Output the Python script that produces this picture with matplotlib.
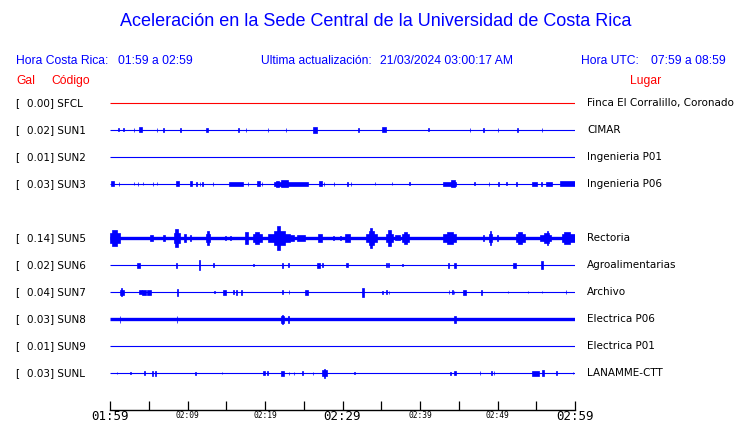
import matplotlib
matplotlib.use("Agg")
import matplotlib.pyplot as plt

BLUE = "#0000ff"
RED = "#ff0000"

# stations top to bottom (None = empty slot where SUN4 would be)
codes = ["SFCL", "SUN1", "SUN2", "SUN3", None, "SUN5", "SUN6", "SUN7", "SUN8", "SUN9", "SUNL"]
gal = [0.00, 0.02, 0.01, 0.03, None, 0.14, 0.02, 0.04, 0.03, 0.01, 0.03]
places = ["Finca El Corralillo, Coronado", "CIMAR", "Ingenieria P01", "Ingenieria P06", None,
          "Rectoria", "Agroalimentarias", "Archivo", "Electrica P06", "Electrica P01", "LANAMME-CTT"]

# bursts per trace: (start min, end min, half amplitude px)
sfcl = []
sun1 = [(1.0, 1.1, 1.5), (1.65, 1.75, 1.5), (3.05, 3.15, 2), (3.7, 4.1, 2.5), (6.0, 6.1, 2),
        (6.9, 7.0, 2), (9.0, 9.1, 2), (12.45, 12.7, 2), (16.5, 16.6, 2), (17.5, 17.6, 2),
        (20.35, 20.45, 2), (22.65, 22.75, 2), (26.2, 26.7, 3), (32.0, 32.1, 2), (35.15, 35.55, 2.5),
        (41.0, 41.1, 1.5), (46.4, 46.5, 2), (48.1, 48.2, 2), (50.0, 50.1, 2), (52.5, 52.6, 2),
        (55.7, 55.8, 2)]
sun2 = []
sun3 = [(0.1, 0.5, 2.5), (1.1, 1.2, 2), (3.05, 3.15, 1.5), (3.55, 3.65, 2), (4.2, 4.3, 1.5),
        (5.5, 5.6, 2), (6.0, 6.1, 1.5), (8.5, 8.9, 2.5), (10.3, 10.6, 2.5), (11.15, 11.25, 2),
        (11.55, 11.65, 2), (11.85, 11.95, 2), (13.25, 13.35, 2), (15.4, 17.2, 2), (17.75, 17.85, 2),
        (19.0, 19.3, 2.5), (19.55, 19.65, 2), (21.2, 25.5, 2), (21.4, 21.8, 3), (22.1, 23.0, 3.5),
        (27.0, 27.3, 2.5), (27.55, 27.65, 2), (28.85, 28.95, 2), (30.55, 30.65, 2), (31.05, 31.15, 2),
        (34.15, 34.25, 1.5), (36.35, 36.45, 1.5), (38.55, 38.65, 1.5), (43.0, 44.6, 2),
        (44.0, 44.5, 3.5), (46.95, 47.05, 1.5), (48.85, 48.95, 2), (50.05, 50.15, 2),
        (51.15, 51.25, 1.5), (52.45, 52.55, 2), (54.5, 55.1, 2), (55.65, 55.75, 2),
        (56.3, 57.0, 2), (58.0, 60.0, 2.5)]
sun5 = [(0.0, 1.3, 5), (0.3, 0.9, 8), (5.2, 5.5, 3), (6.8, 7.1, 3), (8.2, 9.0, 5), (8.4, 8.8, 9),
        (9.5, 9.8, 4), (10.3, 10.45, 3), (12.4, 12.9, 4), (12.5, 12.8, 7), (14.8, 14.95, 2),
        (15.5, 15.65, 2), (17.4, 17.8, 6), (18.5, 19.6, 4), (18.7, 19.2, 6), (20.4, 23.2, 4),
        (21.2, 22.6, 7), (21.6, 21.9, 12), (23.2, 23.8, 3), (24.1, 25.2, 3), (26.8, 27.4, 4),
        (28.8, 28.95, 2), (29.7, 29.85, 2), (30.3, 31.0, 4), (33.0, 34.4, 4), (33.4, 34.0, 7),
        (33.6, 33.8, 10), (35.6, 36.5, 4), (35.9, 36.2, 8), (36.8, 37.4, 2.5), (37.7, 38.6, 4),
        (37.9, 38.3, 6), (43.0, 44.6, 4), (43.5, 44.2, 6), (48.1, 48.25, 3), (48.9, 49.3, 4),
        (49.0, 49.2, 7), (49.9, 50.1, 3), (52.4, 53.6, 4), (52.6, 53.1, 6), (55.5, 56.9, 3),
        (56.0, 56.6, 5), (56.4, 56.55, 7), (58.3, 60.0, 4), (58.6, 59.3, 6)]
sun6 = [(3.5, 3.9, 2.5), (8.5, 8.65, 2.5), (11.45, 11.6, 5), (13.3, 13.45, 2), (18.45, 18.55, 1),
        (22.2, 22.35, 2.5), (23.0, 23.1, 2), (26.7, 27.1, 2.5), (27.35, 27.45, 2), (30.5, 30.7, 2),
        (35.6, 35.7, 2), (35.85, 35.95, 2), (37.65, 37.75, 1), (43.55, 43.75, 2.5),
        (44.45, 44.65, 2.5), (52.0, 52.4, 2.5), (55.6, 55.85, 4)]
sun7 = [(1.3, 1.8, 2.5), (1.45, 1.6, 4), (3.7, 4.1, 2), (4.1, 4.6, 2.5), (4.8, 5.3, 2.5),
        (8.6, 8.75, 3.5), (13.4, 13.5, 1), (14.6, 15.0, 2.5), (15.85, 15.95, 2), (16.25, 16.35, 2.5),
        (16.9, 17.0, 2.5), (22.2, 22.3, 2), (23.05, 23.15, 2), (25.2, 25.5, 2.5), (32.5, 32.8, 4.5),
        (35.1, 35.2, 1.5), (35.6, 35.7, 2), (35.95, 36.05, 1.5), (43.7, 43.8, 2), (44.1, 44.2, 2),
        (44.35, 44.45, 1.5), (45.5, 45.9, 2.5), (47.85, 47.95, 2.5), (51.3, 51.4, 1),
        (53.9, 54.0, 1), (55.7, 55.8, 1), (58.8, 58.9, 2)]
sun8 = [(1.25, 1.35, 3.5), (8.6, 8.7, 3.5), (22.1, 22.4, 3.5), (22.2, 22.3, 4.5),
        (22.95, 23.05, 3.5), (44.4, 44.6, 3.5)]
sun9 = []
sunl = [(0.85, 0.95, 1), (2.55, 2.65, 1), (4.35, 4.5, 2), (5.4, 5.5, 2.5), (5.85, 5.95, 2.5),
        (10.95, 11.05, 1.5), (14.4, 14.5, 1), (19.8, 20.0, 2), (20.3, 20.45, 2), (22.0, 22.4, 2.5),
        (23.05, 23.15, 1.5), (23.7, 23.8, 1.5), (24.75, 24.85, 2), (26.15, 26.25, 1.5),
        (27.4, 28.0, 3), (27.6, 27.8, 4.5), (31.45, 31.55, 1), (43.85, 43.95, 1.5),
        (44.45, 44.6, 2), (47.7, 47.8, 2), (49.1, 49.25, 2), (49.5, 49.6, 2), (54.4, 55.4, 2.5),
        (55.8, 55.95, 3), (57.6, 57.7, 2), (59.7, 59.8, 1)]
bursts = [sfcl, sun1, sun2, sun3, None, sun5, sun6, sun7, sun8, sun9, sunl]

tick_minutes = list(range(0, 61, 5))
tick_labels = ["01:59", "", "02:09", "", "02:19", "", "02:29", "", "02:39", "", "02:49", "", "02:59"]
big_labels = ["01:59", "02:29", "02:59"]

title = "Aceleración en la Sede Central de la Universidad de Costa Rica"
hora_cr = "01:59 a 02:59"
update = "21/03/2024 03:00:17 AM"
hora_utc = "07:59 a 08:59"

W, H = 740, 423
ROW_PX = 27
AX_TOP, AX_BOT = 88, 409.5
fig = plt.figure(figsize=(W / 100, H / 100), dpi=100)
fig.patch.set_facecolor("white")

# trace area: x from pixel 110 to 575, time axis along the bottom
ax = fig.add_axes([110 / W, (H - AX_BOT) / H, 465 / W, (AX_BOT - AX_TOP) / H])
ax.set_xlim(0, 60)
ax.set_ylim((AX_BOT - 103) / ROW_PX, (AX_TOP - 103) / ROW_PX)
for s in ["top", "left", "right"]:
    ax.spines[s].set_visible(False)
ax.spines["bottom"].set_linewidth(1.0)
ax.set_yticks([])
ax.set_xticks(tick_minutes)
ax.set_xticklabels([])
ax.tick_params(axis="x", direction="in", length=6.8, width=0.9)

xt = ax.get_xaxis_transform()
for m, lab in zip(tick_minutes, tick_labels):
    if not lab:
        continue
    big = lab in big_labels
    base_px = 420.2 if big else 418.3
    ax.text(m, (AX_BOT - base_px) / (AX_BOT - AX_TOP), lab, transform=xt,
            ha="center", va="baseline", family="DejaVu Sans Mono",
            fontsize=9 if big else 5.7, clip_on=False)


def px(x):
    return (x - 110) / 465


tr = ax.get_yaxis_transform()
for row, code in enumerate(codes):
    if code is None:
        continue
    color = RED if code == "SFCL" else BLUE
    lw = 2.4 if code in ("SUN5", "SUN8") else 0.8
    ax.hlines(row, 0, 60, color=color, lw=lw)
    for t0, t1, amp in bursts[row]:
        a = amp / ROW_PX
        ax.bar(x=t0, height=2 * a, width=t1 - t0, bottom=row - a, align="edge",
               color=color, edgecolor=color, linewidth=0.5)
    ax.text(px(15), row, "[", transform=tr, fontsize=7.5, va="center", ha="left",
            family="DejaVu Sans", clip_on=False)
    ax.text(px(27), row, f"{gal[row]:.2f}] {code}", transform=tr, fontsize=7.5,
            va="center", ha="left", family="DejaVu Sans", clip_on=False)
    ax.text(px(587), row, places[row], transform=tr, fontsize=7.5, va="center",
            ha="left", family="DejaVu Sans", clip_on=False)


def ftext(x, y, s, **kw):
    fig.text(x / W, 1 - y / H, s, va="center", family="Liberation Sans", **kw)


ftext(376, 22, title, ha="center", fontsize=13, color=BLUE)
ftext(16, 61, "Hora Costa Rica:", ha="left", fontsize=8.7, color=BLUE)
ftext(118, 61, hora_cr, ha="left", fontsize=8.7, color=BLUE)
ftext(261, 61, "Ultima actualización:", ha="left", fontsize=8.7, color=BLUE)
ftext(380, 61, update, ha="left", fontsize=8.7, color=BLUE)
ftext(581, 61, "Hora UTC:", ha="left", fontsize=8.7, color=BLUE)
ftext(651, 61, hora_utc, ha="left", fontsize=8.7, color=BLUE)
ftext(16, 81, "Gal", ha="left", fontsize=8.7, color=RED)
ftext(51, 81, "Código", ha="left", fontsize=8.7, color=RED)
ftext(630, 81, "Lugar", ha="left", fontsize=8.7, color=RED)

fig.savefig("out.png", dpi=100)
